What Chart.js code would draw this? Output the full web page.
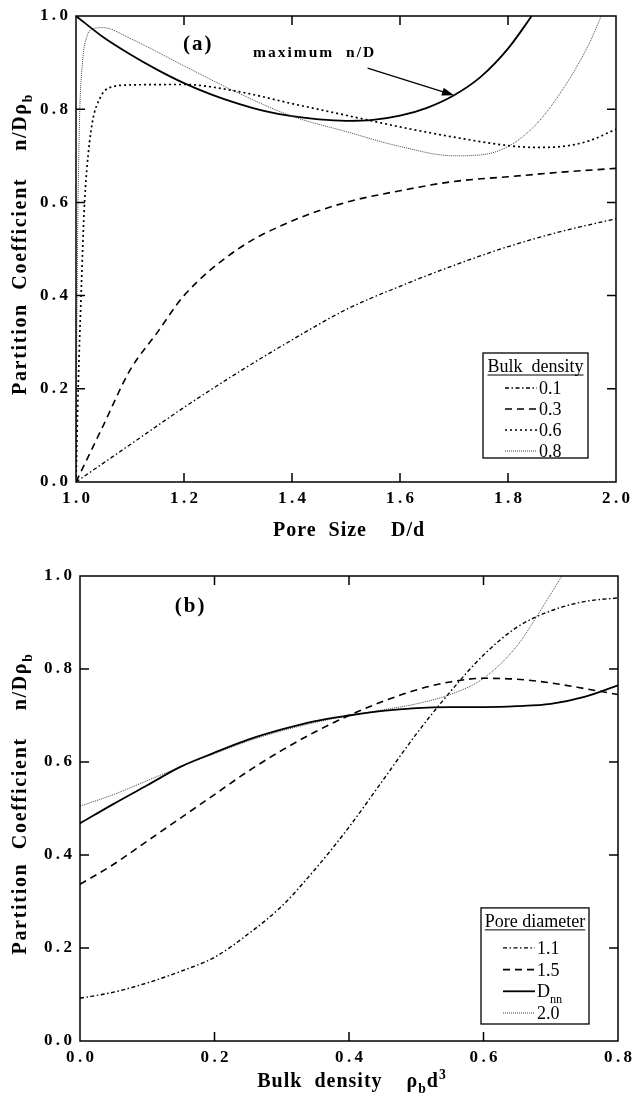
<!DOCTYPE html>
<html>
<head>
<meta charset="utf-8">
<script src="https://cdn.jsdelivr.net/npm/chart.js@4.4.0/dist/chart.umd.min.js"></script>
<style>
  body { margin: 0; background: #fff; }
  .panel { position: absolute; left: 0; width: 633px; }
  #wrapA { top: 0; height: 548px; }
  #wrapB { top: 548px; height: 549px; }
</style>
</head>
<body>
<div class="panel" id="wrapA"><canvas id="chartA" width="633" height="548"></canvas></div>
<div class="panel" id="wrapB"><canvas id="chartB" width="633" height="549"></canvas></div>
<script>
// (a) partition coefficient vs pore size D/d, one curve per bulk density
const poreSize01 = [1.0, 1.05, 1.1, 1.2, 1.3, 1.4, 1.5, 1.6, 1.7, 1.8, 1.9, 2.0];
const coef01     = [0.0, 0.04, 0.08, 0.16, 0.235, 0.305, 0.37, 0.42, 0.465, 0.505, 0.538, 0.565];
const poreSize03 = [1.0, 1.05, 1.1, 1.15, 1.2, 1.3, 1.4, 1.5, 1.6, 1.7, 1.8, 1.9, 2.0];
const coef03     = [0.0, 0.12, 0.24, 0.32, 0.40, 0.50, 0.56, 0.60, 0.625, 0.645, 0.655, 0.665, 0.673];
const poreSize06 = [1.0, 1.004, 1.01, 1.015, 1.02, 1.03, 1.045, 1.06, 1.1, 1.2, 1.3, 1.4, 1.5, 1.6, 1.7, 1.8, 1.85, 1.9, 1.95, 2.0];
const coef06     = [0.0, 0.2, 0.42, 0.58, 0.67, 0.77, 0.825, 0.845, 0.852, 0.853, 0.838, 0.812, 0.787, 0.762, 0.74, 0.722, 0.718, 0.72, 0.732, 0.757];
const poreSize08 = [1.0, 1.002, 1.006, 1.012, 1.02, 1.03, 1.05, 1.1, 1.2, 1.3, 1.4, 1.5, 1.6, 1.7, 1.75, 1.8, 1.85, 1.9, 1.95, 1.98];
const coef08     = [0.0, 0.4, 0.75, 0.9, 0.955, 0.972, 0.975, 0.952, 0.893, 0.835, 0.785, 0.752, 0.72, 0.70, 0.702, 0.72, 0.765, 0.84, 0.94, 1.02];
// maximum n/D envelope
const poreSizeMax = [1.0, 1.05, 1.1, 1.15, 1.2, 1.25, 1.3, 1.35, 1.4, 1.45, 1.5, 1.55, 1.6, 1.65, 1.7, 1.75, 1.8, 1.85];
const coefMax     = [1.0, 0.955, 0.918, 0.885, 0.856, 0.832, 0.812, 0.796, 0.785, 0.778, 0.775, 0.777, 0.786, 0.803, 0.83, 0.87, 0.93, 1.01];
const densityLabels = ['0.1', '0.3', '0.6', '0.8'];

// (b) partition coefficient vs bulk density, one curve per pore diameter
const bulk    = [0, 0.05, 0.1, 0.15, 0.2, 0.25, 0.3, 0.35, 0.4, 0.45, 0.5, 0.55, 0.6, 0.65, 0.7, 0.75, 0.8];
const coef11  = [0.092, 0.105, 0.125, 0.15, 0.18, 0.23, 0.29, 0.37, 0.46, 0.56, 0.66, 0.75, 0.83, 0.89, 0.925, 0.945, 0.953];
const coef15  = [0.337, 0.38, 0.43, 0.48, 0.53, 0.58, 0.625, 0.665, 0.70, 0.73, 0.755, 0.772, 0.78, 0.778, 0.77, 0.758, 0.745];
const coefDnn = [0.468, 0.51, 0.55, 0.59, 0.62, 0.648, 0.67, 0.688, 0.70, 0.71, 0.716, 0.718, 0.718, 0.72, 0.725, 0.74, 0.765];
const bulk20  = [0, 0.05, 0.1, 0.15, 0.2, 0.25, 0.3, 0.35, 0.4, 0.45, 0.5, 0.55, 0.6, 0.65, 0.68, 0.725];
const coef20  = [0.505, 0.53, 0.56, 0.59, 0.618, 0.645, 0.667, 0.685, 0.70, 0.712, 0.725, 0.745, 0.78, 0.85, 0.915, 1.02];
const diameterLabels = ['1.1', '1.5', 'D_nn', '2.0'];

const SERIF = '"Liberation Serif", "DejaVu Serif", serif';
const pts = (xs, ys) => xs.map((x, i) => ({ x, y: ys[i] }));
const spaced = v => v.toFixed(1).split('').join('\u2009');

// split "D_nn" into base text and subscript
const parseLabel = s => {
    const [base, sub] = s.split('_');
    return sub ? [{ t: base }, { t: sub, sub: true }] : [{ t: base }];
};

const setFont = (ctx, size, weight) => { ctx.font = `${weight} ${size}px ${SERIF}`; };

const richWidth = (ctx, parts, size, weight) => parts.reduce((w, p) => {
    setFont(ctx, p.sub || p.sup ? size * 0.68 : size, weight);
    return w + ctx.measureText(p.t).width;
}, 0);

const drawRich = (ctx, parts, x, y, size, weight, align) => {
    let cx = x;
    if (align === 'center') cx -= richWidth(ctx, parts, size, weight) / 2;
    ctx.textAlign = 'left';
    ctx.textBaseline = 'alphabetic';
    parts.forEach(p => {
        const s = p.sub || p.sup ? size * 0.68 : size;
        setFont(ctx, s, weight);
        const dy = p.sub ? size * 0.3 : p.sup ? -size * 0.42 : 0;
        ctx.fillText(p.t, cx, y + dy);
        cx += ctx.measureText(p.t).width;
    });
};

const line = (label, data, dash, width, color) => ({
    label, data,
    borderColor: color || '#000',
    borderWidth: width,
    borderDash: dash,
    pointRadius: 0,
    fill: false,
    cubicInterpolationMode: 'monotone'
});

// frame with inward ticks, axis titles, panel tag, boxed legend, note
const panelDecor = {
    id: 'panelDecor',
    afterDatasetsDraw(chart, args, opts) {
        const { ctx, chartArea: a, scales: { x, y } } = chart;
        ctx.save();
        ctx.fillStyle = '#000';
        ctx.strokeStyle = '#000';
        ctx.lineWidth = 1.5;
        ctx.setLineDash([]);
        ctx.strokeRect(a.left, a.top, a.right - a.left, a.bottom - a.top);

        const tl = 9;
        ctx.beginPath();
        x.ticks.forEach(t => {
            const px = x.getPixelForValue(t.value);
            if (px <= a.left + 1 || px >= a.right - 1) return;
            ctx.moveTo(px, a.bottom); ctx.lineTo(px, a.bottom - tl);
            ctx.moveTo(px, a.top); ctx.lineTo(px, a.top + tl);
        });
        y.ticks.forEach(t => {
            const py = y.getPixelForValue(t.value);
            if (py <= a.top + 1 || py >= a.bottom - 1) return;
            ctx.moveTo(a.left, py); ctx.lineTo(a.left + tl, py);
            ctx.moveTo(a.right, py); ctx.lineTo(a.right - tl, py);
        });
        ctx.stroke();

        // panel tag
        ctx.letterSpacing = '2px';
        drawRich(ctx, [{ t: opts.tag }], x.getPixelForValue(opts.tagAt[0]), y.getPixelForValue(opts.tagAt[1]), 21, 'bold', 'left');

        // x title
        ctx.letterSpacing = '1px';
        drawRich(ctx, opts.xTitle, (a.left + a.right) / 2 + 3, a.bottom + opts.xTitleGap, 20, 'bold', 'center');

        // y title, rotated
        ctx.save();
        ctx.translate(26, (a.top + a.bottom) / 2 - 5);
        ctx.rotate(-Math.PI / 2);
        ctx.letterSpacing = '1.7px';
        drawRich(ctx, opts.yTitle, 0, 0, 20, 'bold', 'center');
        ctx.restore();
        ctx.letterSpacing = '0px';

        // arrow note
        if (opts.note) {
            const n = opts.note;
            ctx.letterSpacing = '2px';
            drawRich(ctx, [{ t: n.text }], x.getPixelForValue(n.at[0]), y.getPixelForValue(n.at[1]), 15.5, 'bold', 'left');
            ctx.letterSpacing = '0px';
            const x0 = x.getPixelForValue(n.from[0]), y0 = y.getPixelForValue(n.from[1]);
            const x1 = x.getPixelForValue(n.to[0]), y1 = y.getPixelForValue(n.to[1]);
            const ang = Math.atan2(y1 - y0, x1 - x0);
            ctx.lineWidth = 1.2;
            ctx.beginPath();
            ctx.moveTo(x0, y0);
            ctx.lineTo(x1 - 8 * Math.cos(ang), y1 - 8 * Math.sin(ang));
            ctx.stroke();
            ctx.beginPath();
            ctx.moveTo(x1, y1);
            ctx.lineTo(x1 - 12 * Math.cos(ang) + 4 * Math.sin(ang), y1 - 12 * Math.sin(ang) - 4 * Math.cos(ang));
            ctx.lineTo(x1 - 12 * Math.cos(ang) - 4 * Math.sin(ang), y1 - 12 * Math.sin(ang) + 4 * Math.cos(ang));
            ctx.closePath();
            ctx.fill();
        }

        // boxed legend with underlined heading
        const lg = opts.legend;
        const sets = chart.data.datasets.filter(d => !d.hideInLegend);
        const bw = lg.width;
        const bh = lg.first + lg.rowH * (sets.length - 1) + lg.tail;
        const bx = a.right - lg.right - bw, by = a.bottom - lg.bottom - bh;
        ctx.lineWidth = 1.3;
        ctx.strokeRect(bx, by, bw, bh);
        setFont(ctx, 18, 'normal');
        ctx.textAlign = 'center';
        ctx.fillText(lg.title, bx + bw / 2, by + 19);
        const tw = ctx.measureText(lg.title).width;
        ctx.lineWidth = 1;
        ctx.beginPath();
        ctx.moveTo(bx + bw / 2 - tw / 2, by + 22);
        ctx.lineTo(bx + bw / 2 + tw / 2, by + 22);
        ctx.stroke();
        sets.forEach((d, i) => {
            const cy = by + lg.first + i * lg.rowH;
            ctx.save();
            ctx.strokeStyle = d.borderColor;
            ctx.lineWidth = d.borderWidth;
            ctx.setLineDash(d.borderDash || []);
            ctx.beginPath();
            ctx.moveTo(bx + 22, cy);
            ctx.lineTo(bx + 54, cy);
            ctx.stroke();
            ctx.restore();
            drawRich(ctx, parseLabel(d.label), bx + 56, cy + 6, 18, 'normal', 'left');
        });
        ctx.restore();
    }
};

const tickFont = { family: SERIF, size: 17, weight: 'bold' };

// keep the plot area fixed: axis boxes get fixed sizes and no label overhang
const fixBox = (dim, size) => s => {
    s[dim] = size;
    s.paddingTop = 0; s.paddingBottom = 0; s.paddingLeft = 0; s.paddingRight = 0;
};

const makeChart = (id, cfg) => new Chart(document.getElementById(id), {
    type: 'line',
    data: { datasets: cfg.datasets },
    options: {
        responsive: false,
        devicePixelRatio: 1,
        animation: false,
        layout: { padding: cfg.padding },
        plugins: {
            legend: { display: false },
            tooltip: { enabled: false },
            panelDecor: cfg.decor
        },
        scales: {
            x: {
                type: 'linear', min: cfg.xMin, max: cfg.xMax,
                grid: { display: false, drawTicks: false, tickLength: 0 }, border: { display: false },
                ticks: { stepSize: cfg.xStep, font: tickFont, color: '#000', padding: cfg.xPad, maxRotation: 0, autoSkip: false, callback: spaced },
                afterFit: fixBox('height', cfg.xHeight)
            },
            y: {
                type: 'linear', min: 0, max: 1,
                grid: { display: false, drawTicks: false, tickLength: 0 }, border: { display: false },
                ticks: { stepSize: 0.2, font: tickFont, color: '#000', padding: cfg.yPad, autoSkip: false, callback: spaced },
                afterFit: fixBox('width', cfg.yWidth)
            }
        }
    },
    plugins: [panelDecor]
});

const tipIdx = poreSizeMax.indexOf(1.7);
const dashDot = [4, 2.5, 1.5, 2.5];

makeChart('chartA', {
    datasets: [
        line(densityLabels[0], pts(poreSize01, coef01), dashDot, 1.3),
        line(densityLabels[1], pts(poreSize03, coef03), [7, 5], 1.6),
        line(densityLabels[2], pts(poreSize06, coef06), [2, 3], 1.7),
        line(densityLabels[3], pts(poreSize08, coef08), [1, 1], 1, '#444'),
        Object.assign(line('maximum n/D', pts(poreSizeMax, coefMax), [], 1.8), { hideInLegend: true })
    ],
    padding: { left: 0, top: 16, right: 17, bottom: 0 },
    xMin: 1, xMax: 2, xStep: 0.2, xHeight: 66, yWidth: 76, xPad: 6, yPad: 8,
    decor: {
        tag: '(a)', tagAt: [1.198, 0.927],
        xTitle: [{ t: 'Pore  Size    D/d' }], xTitleGap: 54,
        yTitle: [{ t: 'Partition  Coefficient    n/D\u03c1' }, { t: 'b', sub: true }],
        note: { text: 'maximum  n/D', at: [1.328, 0.912], from: [1.54, 0.888], to: [poreSizeMax[tipIdx], coefMax[tipIdx]] },
        legend: { title: 'Bulk  density', width: 105, right: 28, bottom: 24, first: 35, rowH: 21, tail: 7 }
    }
});

makeChart('chartB', {
    datasets: [
        line(diameterLabels[0], pts(bulk, coef11), dashDot, 1.4),
        line(diameterLabels[1], pts(bulk, coef15), [7, 5], 1.6),
        line(diameterLabels[2], pts(bulk, coefDnn), [], 1.8),
        line(diameterLabels[3], pts(bulk20, coef20), [1, 1], 1, '#444')
    ],
    padding: { left: 0, top: 28, right: 15, bottom: 0 },
    xMin: 0, xMax: 0.8, xStep: 0.2, xHeight: 56, yWidth: 80, xPad: 6, yPad: 8,
    decor: {
        tag: '(b)', tagAt: [0.141, 0.922],
        xTitle: [{ t: 'Bulk  density    \u03c1' }, { t: 'b', sub: true }, { t: 'd' }, { t: '3', sup: true }], xTitleGap: 46,
        yTitle: [{ t: 'Partition  Coefficient    n/D\u03c1' }, { t: 'b', sub: true }],
        legend: { title: 'Pore diameter', width: 108, right: 29, bottom: 17, first: 40, rowH: 21.7, tail: 11 }
    }
});
</script>
</body>
</html>
